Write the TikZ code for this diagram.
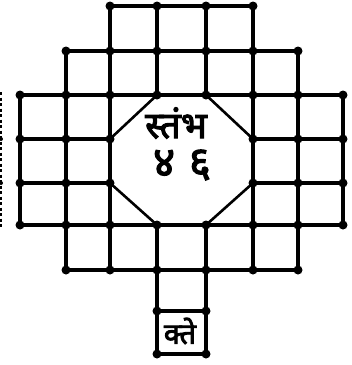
\documentclass[tikz,border=0pt]{standalone}
\usepackage{fontspec}
\newfontfamily\devab[Script=Devanagari,FakeBold=3]{Noto Sans}
\begin{document}
\begin{tikzpicture}[x=1pt,y=-1pt,
  gridline/.style={line width=3.6pt,line cap=round,line join=round},
  diagline/.style={line width=2.6pt,line cap=round},
  vdot/.style={circle,fill=black,inner sep=0pt,minimum size=9pt},
  lbl/.style={inner sep=0pt}]
\useasboundingbox (0,0) rectangle (352,365);
% grid positions
\def\Xa{20}\def\Xb{66}\def\Xc{110}\def\Xd{157}\def\Xe{206}\def\Xf{253}\def\Xg{298}\def\Xh{343}
\def\Ya{6}\def\Yb{51}\def\Yc{95}\def\Yd{139}\def\Ye{183}\def\Yf{225}\def\Yg{270}\def\Yh{311}\def\Yi{354}
% horizontal lines
\draw[gridline] (\Xc,\Ya) -- (\Xf,\Ya);
\draw[gridline] (\Xb,\Yb) -- (\Xg,\Yb);
\draw[gridline] (\Xa,\Yc) -- (\Xh,\Yc);
\draw[gridline] (\Xa,\Yd) -- (\Xc,\Yd) (\Xf,\Yd) -- (\Xh,\Yd);
\draw[gridline] (\Xa,\Ye) -- (\Xc,\Ye) (\Xf,\Ye) -- (\Xh,\Ye);
\draw[gridline] (\Xa,\Yf) -- (\Xh,\Yf);
\draw[gridline] (\Xb,\Yg) -- (\Xg,\Yg);
\draw[gridline] (\Xd,\Yh) -- (\Xe,\Yh);
\draw[gridline] (\Xd,\Yi) -- (\Xe,\Yi);
% vertical lines
\draw[gridline] (\Xa,\Yc) -- (\Xa,\Yf);
\draw[gridline] (\Xb,\Yb) -- (\Xb,\Yg);
\draw[gridline] (\Xc,\Ya) -- (\Xc,\Yg);
\draw[gridline] (\Xd,\Ya) -- (\Xd,\Yc) (\Xd,\Yf) -- (\Xd,\Yi);
\draw[gridline] (\Xe,\Ya) -- (\Xe,\Yc) (\Xe,\Yf) -- (\Xe,\Yi);
\draw[gridline] (\Xf,\Ya) -- (\Xf,\Yg);
\draw[gridline] (\Xg,\Yb) -- (\Xg,\Yg);
\draw[gridline] (\Xh,\Yc) -- (\Xh,\Yf);
% octagon diagonals
\draw[diagline] (\Xd,\Yc) -- (\Xc,\Yd);
\draw[diagline] (\Xe,\Yc) -- (\Xf,\Yd);
\draw[diagline] (\Xf,\Ye) -- (\Xe,\Yf);
\draw[diagline] (\Xc,\Ye) -- (\Xd,\Yf);
% clipped edge at left
\draw[line width=1.5pt,dash pattern=on 3pt off 2.5pt] (1,92) -- (1,228);
\node[vdot,minimum size=4pt] at (1,\Yd) {};
\node[vdot,minimum size=4pt] at (1,\Ye) {};
% dots
\foreach \x in {\Xc,\Xd,\Xe,\Xf} \node[vdot] at (\x,\Ya) {};
\foreach \x in {\Xb,\Xc,\Xd,\Xe,\Xf,\Xg} \node[vdot] at (\x,\Yb) {};
\foreach \x in {\Xa,\Xb,\Xc,\Xd,\Xe,\Xf,\Xg,\Xh} \node[vdot] at (\x,\Yc) {};
\foreach \x in {\Xa,\Xb,\Xc,\Xf,\Xg,\Xh} \node[vdot] at (\x,\Yd) {};
\foreach \x in {\Xa,\Xb,\Xc,\Xf,\Xg,\Xh} \node[vdot] at (\x,\Ye) {};
\foreach \x in {\Xa,\Xb,\Xc,\Xd,\Xe,\Xf,\Xg,\Xh} \node[vdot] at (\x,\Yf) {};
\foreach \x in {\Xb,\Xc,\Xd,\Xe,\Xf,\Xg} \node[vdot] at (\x,\Yg) {};
\foreach \x in {\Xd,\Xe} \node[vdot] at (\x,\Yh) {};
\foreach \x in {\Xd,\Xe} \node[vdot] at (\x,\Yi) {};
% labels
\node[lbl,font=\devab\fontsize{37}{40}\selectfont] (t1) at (176,123) {स्तंभ};
\node[lbl,font=\devab\fontsize{42}{46}\selectfont] (t2) at (182,165) {४\hspace{14pt}६};
\node[lbl,font=\devab\fontsize{29}{32}\selectfont] (t3) at (180,331) {क्ते};
\end{tikzpicture}
\end{document}
